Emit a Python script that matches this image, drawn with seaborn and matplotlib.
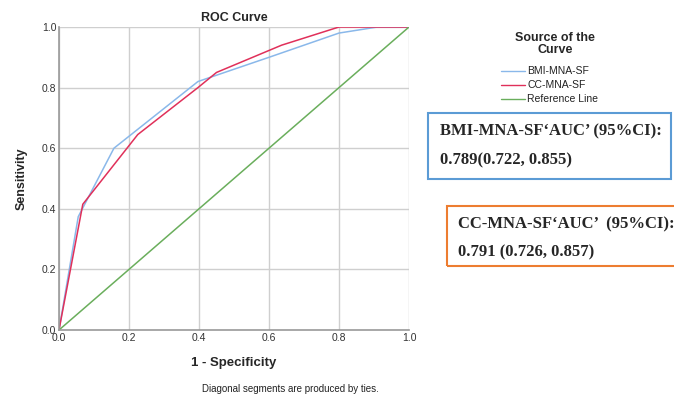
import pandas as pd
import matplotlib.pyplot as plt
import seaborn as sns

# ROC points
bmi_fpr = [0.0, 0.055, 0.157, 0.397, 0.60, 0.80, 0.91, 1.0]
bmi_tpr = [0.0, 0.374, 0.600, 0.820, 0.90, 0.98, 1.00, 1.0]
cc_fpr = [0.0, 0.068, 0.225, 0.397, 0.45, 0.636, 0.80, 1.0]
cc_tpr = [0.0, 0.415, 0.645, 0.800, 0.85, 0.940, 1.00, 1.0]
ref_fpr = [0.0, 1.0]
ref_tpr = [0.0, 1.0]

series = ['BMI-MNA-SF', 'CC-MNA-SF', 'Reference Line']
colors = ['#8ab8ea', '#e0305a', '#6aae5c']
ticks = [0.0, 0.2, 0.4, 0.6, 0.8, 1.0]

df = pd.concat([
    pd.DataFrame({'fpr': bmi_fpr, 'tpr': bmi_tpr, 'Source': series[0]}),
    pd.DataFrame({'fpr': cc_fpr, 'tpr': cc_tpr, 'Source': series[1]}),
    pd.DataFrame({'fpr': ref_fpr, 'tpr': ref_tpr, 'Source': series[2]}),
], ignore_index=True)

sns.set_style("white")
plt.rcParams['font.family'] = ['Liberation Sans', 'DejaVu Sans']

fig = plt.figure(figsize=(6.74, 3.96), dpi=100)
ax = fig.add_axes([59 / 674, 66 / 396, 350 / 674, 303 / 396])

sns.lineplot(data=df, x='fpr', y='tpr', hue='Source', palette=colors,
             sort=False, estimator=None, linewidth=1.1, ax=ax, legend=False)

ax.set_xlim(0, 1)
ax.set_ylim(0, 1)
ax.set_xticks(ticks)
ax.set_yticks(ticks)
ax.set_xticklabels([f'{t:.1f}' for t in ticks], fontsize=7.5, color='#333333')
ax.set_yticklabels([f'{t:.1f}' for t in ticks], fontsize=7.5, color='#333333')
ax.tick_params(length=0, pad=2)
ax.grid(True, color='#cfcfcf', linewidth=1.0)
ax.set_axisbelow(True)
for side in ['top', 'right']:
    ax.spines[side].set_visible(False)
for side in ['left', 'bottom']:
    ax.spines[side].set_color('#9a9a9a')
    ax.spines[side].set_linewidth(1.2)

ax.set_title('ROC Curve', fontsize=9, fontweight='bold', pad=4)
ax.set_xlabel('1 - Specificity', fontsize=9.5, fontweight='bold', labelpad=10)
ax.set_ylabel('Sensitivity', fontsize=9, fontweight='bold', labelpad=10)

fig.text(290 / 674, 1 - 389 / 396, 'Diagonal segments are produced by ties.',
         fontsize=7, ha='center', va='center', color='#222222')

# legend
fig.text(555 / 674, 1 - 44 / 396, 'Source of the\nCurve', fontsize=9,
         fontweight='bold', ha='center', va='center', linespacing=0.95)
for i, (name, c) in enumerate(zip(series, colors)):
    yy = 1 - (71 + 14 * i) / 396
    fig.add_artist(plt.Line2D([501 / 674, 525 / 674], [yy, yy], color=c, lw=1.0))
    fig.text(527 / 674, yy, name, fontsize=7.5, va='center', ha='left', color='#222222')

# AUC boxes
box1 = plt.Rectangle((428 / 674, 1 - 179 / 396), 243 / 674, 66 / 396,
                     transform=fig.transFigure, fill=False, ec='#5b9bd5', lw=1.5)
fig.add_artist(box1)
fig.text(440 / 674, 1 - 131 / 396, 'BMI-MNA-SF‘AUC’ (95%CI):', fontsize=12,
         fontweight='bold', family='Liberation Serif', va='center')
fig.text(440 / 674, 1 - 160 / 396, '0.789(0.722, 0.855)', fontsize=12,
         fontweight='bold', family='Liberation Serif', va='center')

box2 = plt.Rectangle((447 / 674, 1 - 266 / 396), 240 / 674, 60 / 396,
                     transform=fig.transFigure, fill=False, ec='#ed7d31', lw=1.5)
fig.add_artist(box2)
fig.text(458 / 674, 1 - 224 / 396, 'CC-MNA-SF‘AUC’  (95%CI):', fontsize=12,
         fontweight='bold', family='Liberation Serif', va='center')
fig.text(458 / 674, 1 - 252 / 396, '0.791 (0.726, 0.857)', fontsize=12,
         fontweight='bold', family='Liberation Serif', va='center')

fig.savefig('out.png', dpi=100)
